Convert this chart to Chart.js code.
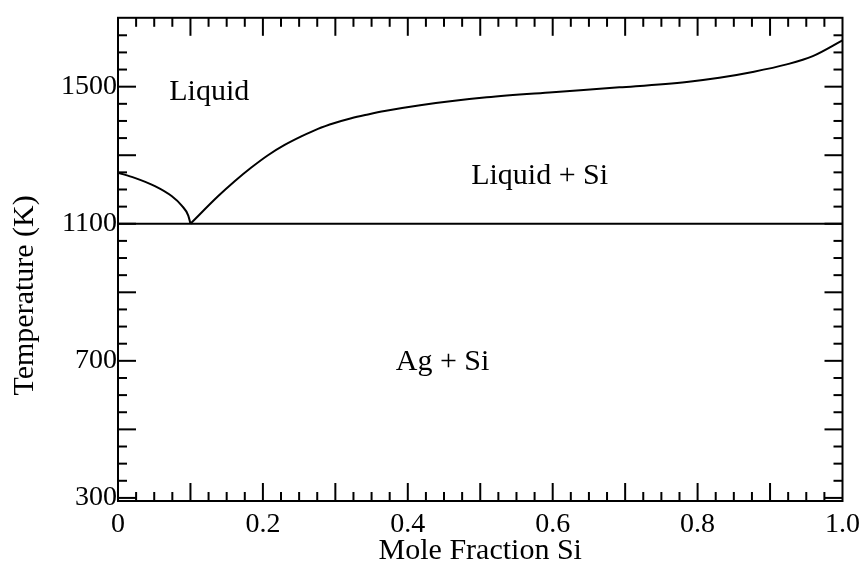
<!DOCTYPE html>
<html>
<head>
<meta charset="utf-8">
<script src="https://cdn.jsdelivr.net/npm/chart.js@4.4.0/dist/chart.umd.min.js"></script>
<style>
  html, body { margin: 0; padding: 0; background: #fff; }
  #wrap { width: 867px; height: 564px; position: relative; }
</style>
</head>
<body>
<div id="wrap"><canvas id="phase"></canvas></div>
<script>
// ---- data ----
// liquidus on the Ag side, from pure Ag down to the eutectic
const leftLiqX = [0, 0.023, 0.051, 0.074, 0.088, 0.097, 0.100];
const leftLiqT = [1249, 1234, 1210, 1181, 1153, 1124, 1100];

// liquidus on the Si side, from the eutectic up to pure Si
const rightLiqX = [0.100, 0.138, 0.161, 0.184, 0.207, 0.230, 0.253, 0.276, 0.299, 0.322, 0.345, 0.368, 0.417, 0.509, 0.600, 0.692, 0.785, 0.830, 0.876, 0.923, 0.959, 1.000];
const rightLiqT = [1100, 1180, 1224, 1264, 1300, 1330, 1355, 1377, 1394, 1408, 1419, 1429, 1446, 1469, 1484, 1498, 1514, 1526, 1543, 1565, 1589, 1635];

// eutectic line
const eutecticX = [0, 1];
const eutecticT = [1100, 1100];

// phase field labels
const regionNames = ['Liquid', 'Liquid + Si', 'Ag + Si'];
const regionX = [0.126, 0.582, 0.448];
const regionT = [1485, 1238, 697];

// tick labels
const xTickLabels = [0, 0.2, 0.4, 0.6, 0.8, 1.0];
const yTickLabels = [300, 700, 1100, 1500];

const FONT = '"Liberation Serif", "Times New Roman", serif';

const toPts = (xs, ys) => xs.map((v, i) => ({ x: v, y: ys[i] }));

const lineStyle = {
    borderColor: '#000',
    borderWidth: 2,
    pointRadius: 0,
    showLine: true,
    fill: false
};

// white page, box with inward ticks on all four sides, field labels, y title
const framePlugin = {
    id: 'frame',
    beforeDraw(chart) {
        const c = chart.ctx;
        c.save();
        c.fillStyle = '#fff';
        c.fillRect(0, 0, chart.width, chart.height);
        c.restore();
    },
    afterDatasetsDraw(chart) {
        const { ctx, chartArea: a, scales: { x, y } } = chart;
        ctx.save();
        ctx.strokeStyle = '#000';
        ctx.lineWidth = 2;
        ctx.lineCap = 'butt';
        ctx.strokeRect(a.left, a.top, a.right - a.left, a.bottom - a.top);

        const seg = (x1, y1, x2, y2) => {
            ctx.beginPath();
            ctx.moveTo(x1, y1);
            ctx.lineTo(x2, y2);
            ctx.stroke();
        };

        // x: minor every 0.025, major every 0.1
        for (let i = 1; i < 40; i++) {
            const px = x.getPixelForValue(i * 0.025);
            const len = i % 4 === 0 ? 18 : 9;
            seg(px, a.bottom, px, a.bottom - len);
            seg(px, a.top, px, a.top + len);
        }
        // y: minor every 50 K, major every 200 K
        for (let v = 300; v < y.max; v += 50) {
            const py = y.getPixelForValue(v);
            if (py < a.top + 3 || py > a.bottom - 3) continue;
            const len = (v - 300) % 200 === 0 ? 18 : 9;
            seg(a.left, py, a.left + len, py);
            seg(a.right, py, a.right - len, py);
        }

        ctx.fillStyle = '#000';
        ctx.font = '30px ' + FONT;
        ctx.textAlign = 'center';
        ctx.textBaseline = 'middle';
        regionNames.forEach((t, i) => {
            ctx.fillText(t, x.getPixelForValue(regionX[i]), y.getPixelForValue(regionT[i]));
        });

        // y axis title, sits a bit below the middle of the axis
        ctx.translate(25, (a.top + a.bottom) / 2 + 36);
        ctx.rotate(-Math.PI / 2);
        ctx.fillText('Temperature (K)', 0, 0);
        ctx.restore();
    }
};

new Chart(document.getElementById('phase'), {
    type: 'scatter',
    data: {
        datasets: [
            { ...lineStyle, data: toPts(leftLiqX, leftLiqT), cubicInterpolationMode: 'monotone' },
            { ...lineStyle, data: toPts(rightLiqX, rightLiqT), cubicInterpolationMode: 'monotone' },
            { ...lineStyle, data: toPts(eutecticX, eutecticT) }
        ]
    },
    options: {
        responsive: true,
        maintainAspectRatio: false,
        animation: false,
        layout: { padding: { top: 11, right: 24, left: 0, bottom: 0 } },
        plugins: {
            legend: { display: false },
            tooltip: { enabled: false }
        },
        scales: {
            x: {
                type: 'linear',
                min: 0,
                max: 1,
                afterBuildTicks: s => { s.ticks = xTickLabels.map(v => ({ value: v })); },
                afterFit: s => { s.height = 63; },
                grid: { display: false, drawTicks: false },
                border: { display: false },
                ticks: {
                    color: '#000',
                    font: { family: FONT, size: 28 },
                    padding: 7,
                    maxRotation: 0,
                    autoSkip: false,
                    callback: v => (v === 0 ? '0' : v.toFixed(1))
                },
                title: {
                    display: true,
                    text: 'Mole Fraction Si',
                    color: '#000',
                    font: { family: FONT, size: 30, lineHeight: 1 },
                    padding: { top: 0, bottom: -2 }
                }
            },
            y: {
                type: 'linear',
                min: 291,
                max: 1701,
                afterBuildTicks: s => { s.ticks = yTickLabels.map(v => ({ value: v })); },
                afterFit: s => { s.width = 118; },
                grid: { display: false, drawTicks: false },
                border: { display: false },
                ticks: {
                    color: '#000',
                    font: { family: FONT, size: 28 },
                    padding: 1,
                    autoSkip: false,
                    callback: v => String(v)
                }
            }
        }
    },
    plugins: [framePlugin]
});
</script>
</body>
</html>
